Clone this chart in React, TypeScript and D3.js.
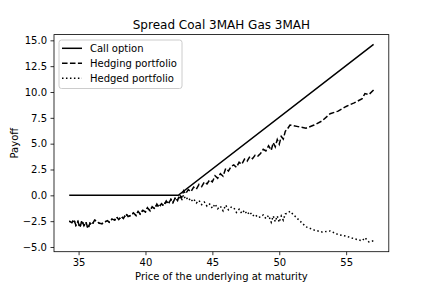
import { useEffect, useRef } from "react";
import * as d3 from "d3";

// prices at maturity (sorted)
const prices = [
  34.3, 34.5, 34.65, 34.8, 34.95, 35.1, 35.25, 35.4, 35.55, 35.7, 35.85, 36.0, 36.2, 36.4, 36.55, 36.75,
  36.95, 37.15, 37.3, 37.5, 37.7, 37.85, 38.0, 38.2, 38.35, 38.55, 38.7, 38.9, 39.1, 39.3, 39.45, 39.6,
  39.8, 40.0, 40.15, 40.35, 40.5, 40.7, 40.85, 41.0, 41.2, 41.35, 41.55, 41.7, 41.9, 42.05, 42.25, 42.4,
  42.55, 42.7, 42.85, 43.0, 43.2, 43.4, 43.6, 43.8, 44.0, 44.2, 44.4, 44.6, 44.8, 45.0, 45.2, 45.4,
  45.6, 45.8, 46.0, 46.2, 46.4, 46.6, 46.8, 47.0, 47.2, 47.4, 47.6, 47.8, 48.0, 48.2, 48.4, 48.6,
  48.8, 49.0, 49.2, 49.4, 49.55, 49.7, 49.85, 50.0, 50.15, 50.3, 50.45, 50.6, 50.8, 51.4, 52.0, 52.6,
  53.2, 53.8, 54.4, 55.0, 55.6, 56.2, 56.4, 56.7, 57.05,
];

const hedging = [
  -2.5, -2.65, -2.35, -2.9, -2.55, -3.1, -2.45, -2.95, -2.6, -3.2, -2.7, -2.85, -2.4, -2.55, -2.7, -2.75,
  -2.6, -2.45, -2.6, -2.3, -2.4, -2.1, -2.35, -2.05, -2.25, -1.8, -2.05, -1.95, -1.7, -1.95, -1.55, -1.8,
  -1.45, -1.6, -1.2, -1.5, -1.1, -1.3, -0.85, -1.15, -0.8, -1.0, -0.55, -0.85, -0.4, -0.7, -0.2, -0.5,
  0.05, -0.25, 0.45, 0.15, 0.55, 0.35, 0.8, 0.6, 1.05, 0.85, 1.3, 1.1, 1.5, 1.3, 1.9, 1.65,
  2.1, 1.85, 2.6, 2.35, 2.8, 2.95, 2.7, 3.2, 3.0, 3.5, 3.3, 3.75, 3.55, 3.9, 3.8, 4.05,
  4.45, 4.3, 4.8, 4.35, 5.1, 4.7, 5.4, 4.95, 5.7, 5.45, 6.2, 6.4, 6.8, 6.65, 6.5, 6.8,
  7.2, 7.9, 8.15, 8.6, 8.95, 9.35, 9.85, 9.75, 10.2,
];

const hedged = [
  -2.5, -2.65, -2.35, -2.9, -2.55, -3.1, -2.45, -2.95, -2.6, -3.2, -2.7, -2.85, -2.4, -2.55, -2.7, -2.75,
  -2.6, -2.45, -2.6, -2.3, -2.4, -2.1, -2.35, -2.05, -2.25, -1.8, -2.05, -1.95, -1.7, -1.95, -1.55, -1.8,
  -1.45, -1.6, -1.2, -1.5, -1.1, -1.3, -0.85, -1.15, -0.8, -1.0, -0.55, -0.85, -0.4, -0.7, -0.2, -0.5,
  -0.05, -0.5, 0.05, -0.4, -0.2, -0.6, -0.35, -0.75, -0.5, -0.9, -0.65, -1.05, -0.85, -1.25, -0.85, -1.3,
  -1.05, -1.5, -0.95, -1.4, -1.15, -1.2, -1.65, -1.35, -1.75, -1.45, -1.85, -1.6, -2.0, -1.85, -2.15, -2.1,
  -1.9, -2.25, -1.95, -2.6, -2.0, -2.55, -2.0, -2.6, -2.0, -2.4, -1.8, -1.75, -1.55, -2.3, -3.05, -3.35,
  -3.55, -3.45, -3.8, -3.95, -4.2, -4.4, -4.1, -4.5, -4.4,
];

// call payoff: flat until the strike, then slope one
const callPrices = [34.3, 42.45, 57.05];
const callPayoff = [0, 0, 14.6];

const xTicks = [35, 40, 45, 50, 55];
const yTicks = [-5, -2.5, 0, 2.5, 5, 7.5, 10, 12.5, 15];

const series = [
  { name: "Call option", x: callPrices, y: callPayoff, dash: "" },
  { name: "Hedging portfolio", x: prices, y: hedging, dash: "5.55,2.4" },
  { name: "Hedged portfolio", x: prices, y: hedged, dash: "1.5,2.475" },
];

const font = "DejaVu Sans, sans-serif";

const App = () => {
  const ref = useRef<SVGSVGElement>(null);

  useEffect(() => {
    const svg = d3.select(ref.current);
    svg.selectAll("*").remove();

    const left = 54, right = 388.8, top = 34.6, bottom = 251.7;

    const allX = [...prices, ...callPrices];
    const allY = [...hedging, ...hedged, ...callPayoff];
    const [x0, x1] = d3.extent(allX) as [number, number];
    const [y0, y1] = d3.extent(allY) as [number, number];
    const px = (x1 - x0) * 0.05, py = (y1 - y0) * 0.05;

    const x = d3.scaleLinear().domain([x0 - px, x1 + px]).range([left, right]);
    const y = d3.scaleLinear().domain([y0 - py, y1 + py]).range([bottom, top]);

    const line = d3.line<[number, number]>()
      .x(d => x(d[0]))
      .y(d => y(d[1]));

    const plot = svg.append("g");
    series.forEach(s => {
      const pts = s.x.map((v, i) => [v, s.y[i]] as [number, number]);
      plot.append("path")
        .attr("d", line(pts))
        .attr("fill", "none")
        .attr("stroke", "black")
        .attr("stroke-width", 1.5)
        .attr("stroke-dasharray", s.dash || null);
    });

    // axes
    const xAxis = svg.append("g")
      .attr("transform", `translate(0,${bottom})`)
      .call(d3.axisBottom(x).tickValues(xTicks).tickSize(3.5).tickPadding(3.5).tickSizeOuter(0));
    const yAxis = svg.append("g")
      .attr("transform", `translate(${left},0)`)
      .call(d3.axisLeft(y).tickValues(yTicks).tickFormat(d3.format(".1f")).tickSize(3.5).tickPadding(3.5).tickSizeOuter(0));
    [xAxis, yAxis].forEach(a => {
      a.select(".domain").remove();
      a.selectAll(".tick line").attr("stroke", "black").attr("stroke-width", 0.8);
      a.selectAll(".tick text").attr("font-family", font).attr("font-size", 10).attr("fill", "black");
    });

    // frame
    svg.append("rect")
      .attr("x", left).attr("y", top)
      .attr("width", right - left).attr("height", bottom - top)
      .attr("fill", "none").attr("stroke", "black").attr("stroke-width", 0.8);

    // legend
    const lg = svg.append("g");
    lg.append("rect")
      .attr("x", 59).attr("y", 40).attr("width", 123).attr("height", 48.5)
      .attr("rx", 2.5)
      .attr("fill", "white").attr("fill-opacity", 0.8)
      .attr("stroke", "#cccccc").attr("stroke-width", 1);
    series.forEach((s, i) => {
      const yy = 48.3 + i * 15;
      lg.append("line")
        .attr("x1", 62).attr("x2", 82).attr("y1", yy).attr("y2", yy)
        .attr("stroke", "black").attr("stroke-width", 1.5)
        .attr("stroke-dasharray", s.dash || null);
      lg.append("text")
        .attr("x", 90).attr("y", yy + 3.6)
        .attr("font-family", font).attr("font-size", 10)
        .text(s.name);
    });

    // labels
    svg.append("text")
      .attr("x", (left + right) / 2).attr("y", 28.5)
      .attr("text-anchor", "middle")
      .attr("font-family", font).attr("font-size", 12)
      .text("Spread Coal 3MAH Gas 3MAH");
    svg.append("text")
      .attr("x", (left + right) / 2).attr("y", 280)
      .attr("text-anchor", "middle")
      .attr("font-family", font).attr("font-size", 10)
      .text("Price of the underlying at maturity");
    svg.append("text")
      .attr("transform", `translate(17.5,${(top + bottom) / 2}) rotate(-90)`)
      .attr("text-anchor", "middle")
      .attr("font-family", font).attr("font-size", 10)
      .text("Payoff");
  }, []);

  return (
    <svg
      ref={ref}
      width={432}
      height={288}
      style={{ position: "absolute", left: 0, top: 0, background: "white" }}
    />
  );
};

export default App;
